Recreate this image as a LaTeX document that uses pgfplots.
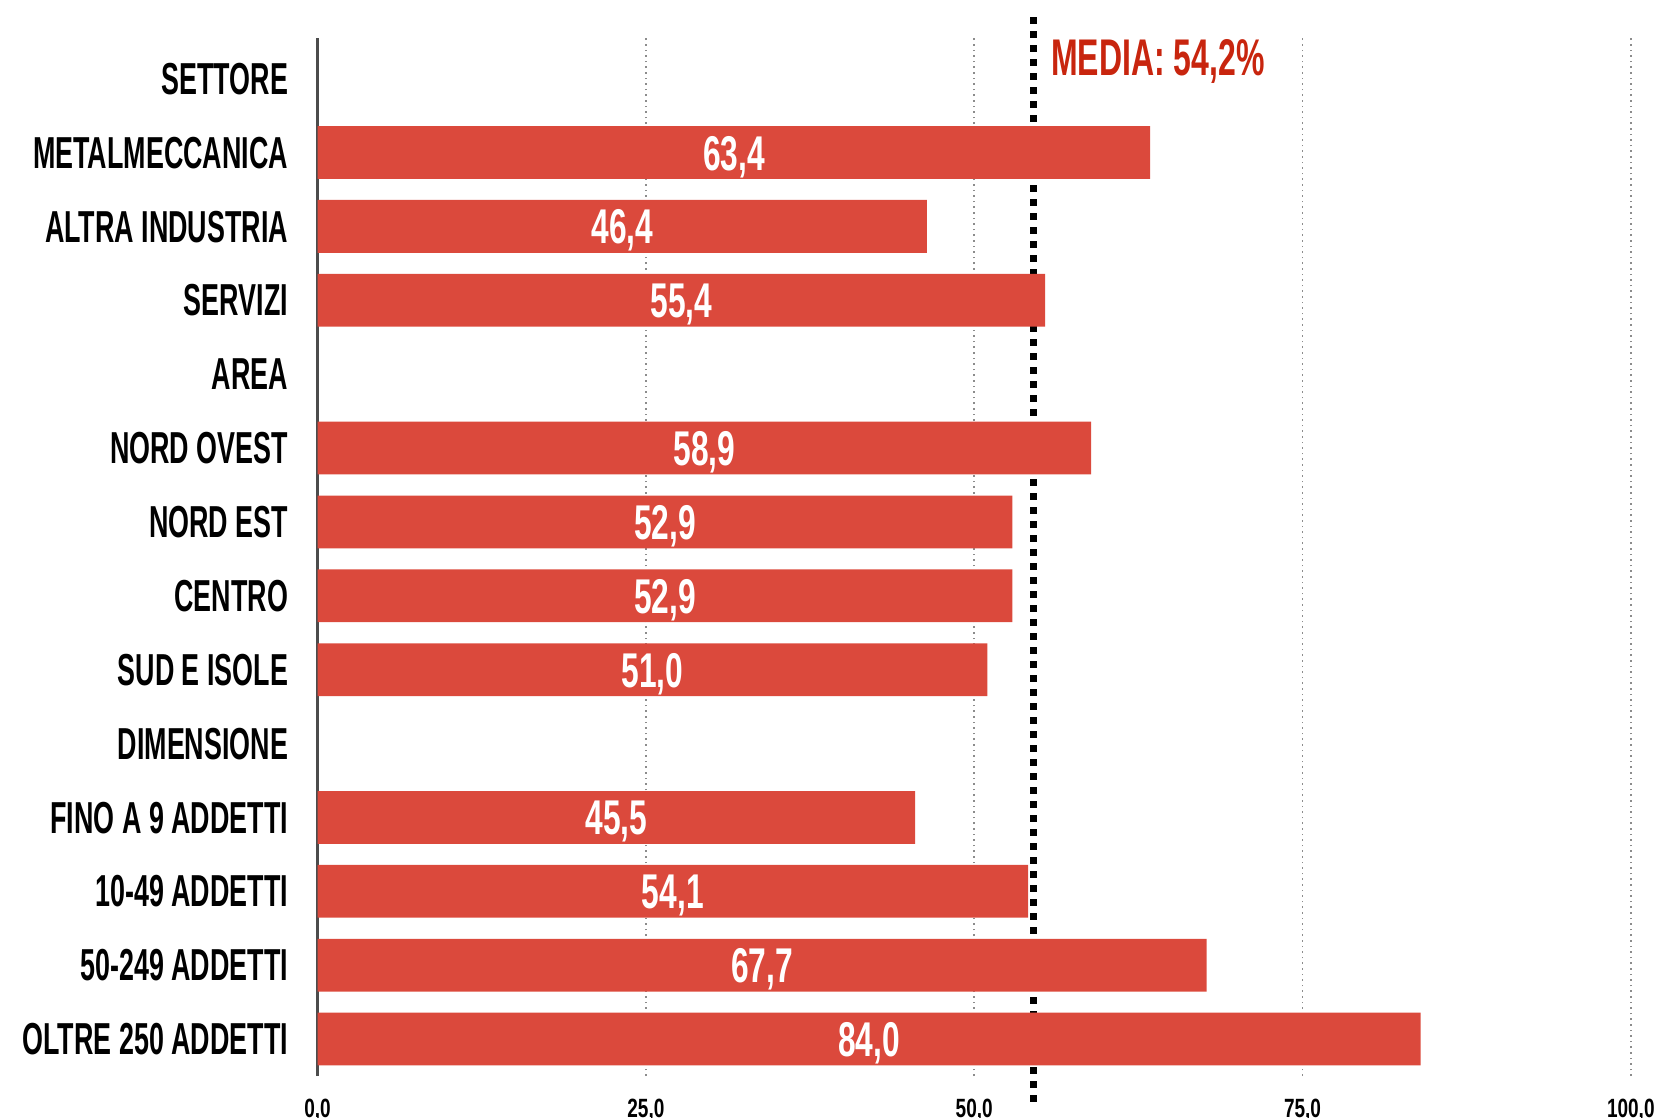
\documentclass[border=0pt]{standalone}
\usepackage{pgfplots}
\pgfplotsset{compat=1.18}
\usepackage{pgfplotstable}
\usepackage{fontspec}
\setmainfont{Liberation Sans}
\newfontfamily\catfont{Liberation Sans Bold}[FakeStretch=0.6]
\newfontfamily\numfont{Liberation Sans Bold}[FakeStretch=0.65]
\newfontfamily\medfont{Liberation Sans Bold}[FakeStretch=0.62]
\newfontfamily\tickfont{Liberation Sans Bold}[FakeStretch=0.72]
\definecolor{barred}{HTML}{DB493C}
\definecolor{medred}{HTML}{C8250E}
\pgfplotstableread{
y val lab
12 63.4 63,4
11 46.4 46,4
10 55.4 55,4
8 58.9 58,9
7 52.9 52,9
6 52.9 52,9
5 51.0 51,0
3 45.5 45,5
2 54.1 54,1
1 67.7 67,7
0 84.0 84,0
}\datatab
\begin{document}
\begin{tikzpicture}
\begin{axis}[
  scale only axis, width=328.3pt, height=259.5pt,
  xmin=0, xmax=100, ymin=-0.5, ymax=13.55,
  clip=false,
  axis lines*=left,
  x axis line style={draw=none},
  y axis line style={draw=black!70, line width=0.6pt},
  major tick length=0pt,
  xtick={0,25,50,75,100},
  xticklabels={{0,0},{25,0},{50,0},{75,0},{100,0}},
  xticklabel style={font=\fontsize{6.6}{7}\tickfont, anchor=north, inner sep=0pt, text depth=0pt, yshift=-5.6pt},
  ytick={0,...,13},
  yticklabels={OLTRE 250 ADDETTI,50-249 ADDETTI,10-49 ADDETTI,FINO A 9 ADDETTI,DIMENSIONE,SUD E ISOLE,CENTRO,NORD EST,NORD OVEST,AREA,SERVIZI,ALTRA INDUSTRIA,METALMECCANICA,SETTORE},
  yticklabel style={font=\fontsize{11.2}{12}\catfont, anchor=east, inner sep=0pt, text depth=0pt, xshift=-7.2pt},
  xmajorgrids,
  grid style={densely dotted, black!45, line width=0.4pt},
  bar width=13.2pt,
]
\addplot[black, line width=1.8pt, dash pattern=on 1.8pt off 1.7pt, mark=none] coordinates {(54.5,-0.85) (54.5,13.92)};
\addplot[xbar, fill=barred, draw=none] table[x=val, y=y] {\datatab};
\addplot[draw=none, mark=none, x filter/.expression={x/2},
  nodes near coords, point meta=explicit symbolic,
  every node near coord/.append style={font=\fontsize{12.2}{13}\numfont, text=white, anchor=center, inner sep=0pt, text height=8.75pt, text depth=0pt}]
  table[x=val, y=y, meta=lab] {\datatab};
\node[anchor=west, inner sep=0pt, text=medred, font=\fontsize{12.9}{14}\medfont, text height=9.2pt, text depth=0pt] at (axis cs:55.8,13.29) {MEDIA: 54,2\%};
\end{axis}
\pgfresetboundingbox
\path ([xshift=-79.4pt,yshift=-10.25pt]current axis.south west) rectangle ([xshift=5.8pt,yshift=9.5pt]current axis.north east);
\end{tikzpicture}
\end{document}
